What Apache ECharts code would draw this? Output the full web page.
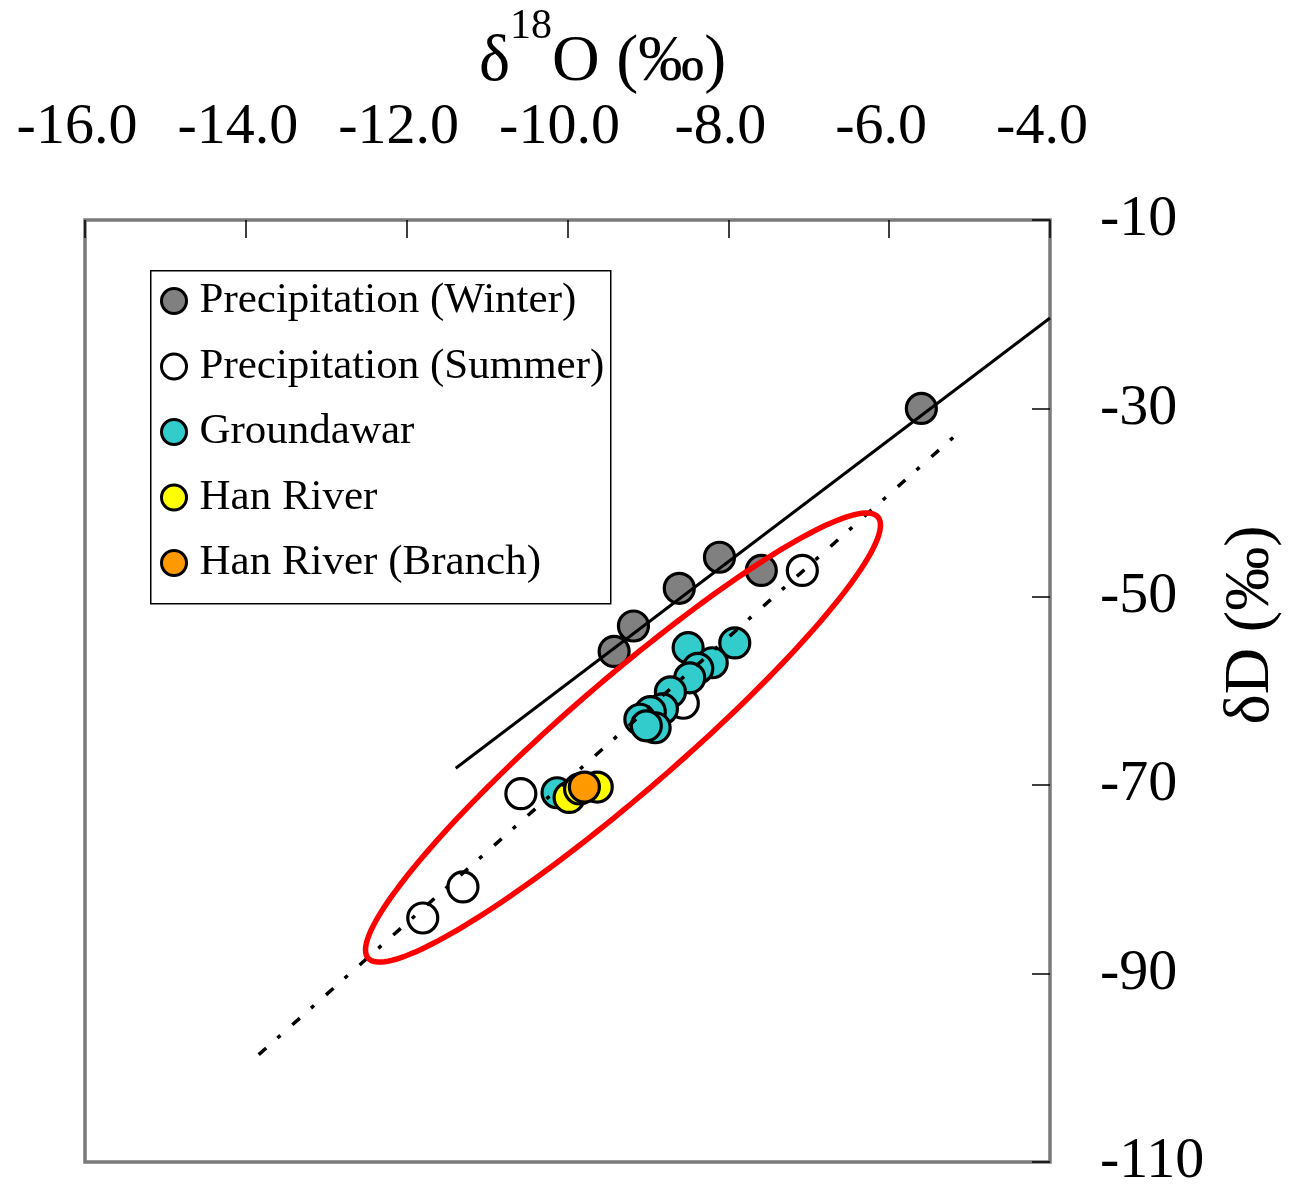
<!DOCTYPE html>
<html>
<head>
<meta charset="utf-8">
<script src="https://cdn.jsdelivr.net/npm/echarts@6/dist/echarts.min.js"></script>
<style>html,body{margin:0;padding:0;background:#fff}#c{width:1291px;height:1187px}</style>
</head>
<body>
<div id="c"></div>
<script>
// ---- data ----
const xTicks = [-16, -14, -12, -10, -8, -6, -4];
const yTicks = [-110, -90, -70, -50, -30, -10];

const winterO = [-5.60, -8.11, -7.59, -8.61, -9.18, -9.42];
const winterD = [-30.0, -45.8, -47.2, -49.1, -53.1, -55.8];

const summerO = [-7.08, -8.56, -10.58, -11.30, -11.80];
const summerD = [-47.2, -61.3, -70.9, -80.8, -84.1];

const groundO = [-7.92, -8.50, -8.20, -8.38, -8.48, -8.72, -8.82, -8.97, -9.10, -8.91, -9.02, -10.13];
const groundD = [-54.9, -55.4, -57.0, -57.6, -58.6, -60.1, -61.9, -62.2, -63.0, -63.9, -63.7, -70.8];

const hanO = [-9.98, -9.85, -9.63];
const hanD = [-71.3, -70.4, -70.2];

const branchO = [-9.79];
const branchD = [-70.2];

const solidLineO = [-11.39, -4.0];
const solidLineD = [-68.2, -20.4];
const dotLineO = [-13.84, -5.14];
const dotLineD = [-98.6, -32.6];

const ellipseCenter = [-9.31, -64.94];
const ellipseTip = [-6.14, -41.53];
const ellipseSide = [-9.76, -60.44];

const seriesNames = ['Precipitation (Winter)', 'Precipitation (Summer)', 'Groundawar', 'Han River', 'Han River (Branch)'];
const seriesColors = ['#808080', '#ffffff', '#33cccc', '#ffff00', '#ff9900'];

// ---- build ----
const zip = (a, b) => a.map((v, i) => [v, b[i]]);
const serif = '"Liberation Serif", "Times New Roman", serif';

const scatterData = [zip(winterO, winterD), zip(summerO, summerD), zip(groundO, groundD), zip(hanO, hanD), zip(branchO, branchD)];

const series = scatterData.map((d, i) => ({
  name: seriesNames[i],
  type: 'scatter',
  data: d,
  symbol: 'circle',
  symbolSize: 30,
  z: 2,
  itemStyle: { color: seriesColors[i], borderColor: '#000', borderWidth: 3.2, opacity: 1 }
}));

series.push({
  name: 'solid', type: 'line', data: zip(solidLineO, solidLineD), symbol: 'none', z: 3,
  lineStyle: { color: '#000', width: 3 }
});
series.push({
  name: 'dotted', type: 'line', data: zip(dotLineO, dotLineD), symbol: 'none', z: 3,
  lineStyle: { color: '#000', width: 3.5, type: [10, 15, 4, 16] }
});
series.push({
  name: 'ellipse', type: 'custom', z: 4,
  data: [[ellipseCenter[0], ellipseCenter[1], ellipseTip[0], ellipseTip[1], ellipseSide[0], ellipseSide[1]]],
  encode: { x: 0, y: 1 },
  renderItem: function (params, api) {
    const c = api.coord([api.value(0), api.value(1)]);
    const t = api.coord([api.value(2), api.value(3)]);
    const m = api.coord([api.value(4), api.value(5)]);
    const ux = t[0] - c[0], uy = t[1] - c[1], vx = m[0] - c[0], vy = m[1] - c[1];
    const pts = [];
    for (let i = 0; i < 180; i++) {
      const a = i / 180 * Math.PI * 2;
      pts.push([c[0] + ux * Math.cos(a) + vx * Math.sin(a), c[1] + uy * Math.cos(a) + vy * Math.sin(a)]);
    }
    return { type: 'polygon', shape: { points: pts }, style: { fill: 'none', stroke: '#ff0000', lineWidth: 5.5 } };
  }
});

const chart = echarts.init(document.getElementById('c'));
chart.setOption({
  animation: false,
  backgroundColor: '#fff',
  grid: { left: 85, top: 220, right: 241, bottom: 25, show: true, borderColor: '#7a7a7a', borderWidth: 3.5, containLabel: false, outerBoundsMode: 'none' },
  graphic: [{
    type: 'rect', z: 3, left: 150, top: 270,
    shape: { width: 460, height: 333 },
    style: { fill: '#fff', stroke: '#000', lineWidth: 1.5 }
  }],
  legend: {
    data: seriesNames,
    orient: 'vertical',
    left: 160, top: 279,
    padding: 0,
    itemGap: 21.5,
    itemWidth: 25, itemHeight: 25,
    icon: 'circle',
    z: 5,
    itemStyle: { borderColor: '#000', borderWidth: 3 },
    textStyle: { fontFamily: serif, fontSize: 43, color: '#000', lineHeight: 44, padding: [0, 0, 0, 8] }
  },
  xAxis: {
    type: 'value', position: 'top', min: -16, max: -4,
    name: '{d|δ}{s|18}{o|O (‰)}',
    nameLocation: 'middle', nameGap: 100, nameMoveOverlap: false,
    nameTextStyle: {
      fontFamily: serif, fontSize: 66, color: '#000', padding: [0, 0, 0, 70],
      rich: {
        d: { fontFamily: serif, fontSize: 66, lineHeight: 114, color: '#000' },
        s: { fontFamily: serif, fontSize: 42, lineHeight: 42, verticalAlign: 'top', color: '#000' },
        o: { fontFamily: serif, fontSize: 66, lineHeight: 114, color: '#000' }
      }
    },
    axisLine: { show: false },
    axisTick: { show: true, inside: true, length: 18, customValues: xTicks, lineStyle: { color: '#000', width: 1.5 } },
    axisLabel: {
      customValues: xTicks, margin: 63, fontFamily: serif, fontSize: 58, color: '#000', lineHeight: 58,
      padding: [0, 16, 0, 0],
      formatter: v => v.toFixed(1)
    },
    splitLine: { show: false }
  },
  yAxis: {
    type: 'value', position: 'right', min: -110, max: -10,
    name: 'δD (‰)', nameLocation: 'middle', nameRotate: 90, nameGap: 168, nameMoveOverlap: false,
    nameTextStyle: { fontFamily: serif, fontSize: 64, color: '#000', lineHeight: 66, padding: [0, 0, 0, 132] },
    axisLine: { show: false },
    axisTick: { show: true, inside: true, length: 18, customValues: yTicks, lineStyle: { color: '#000', width: 1.5 } },
    axisLabel: { customValues: yTicks, margin: 50, fontFamily: serif, fontSize: 58, color: '#000', lineHeight: 58 },
    splitLine: { show: false }
  },
  series: series
});
</script>
</body>
</html>
